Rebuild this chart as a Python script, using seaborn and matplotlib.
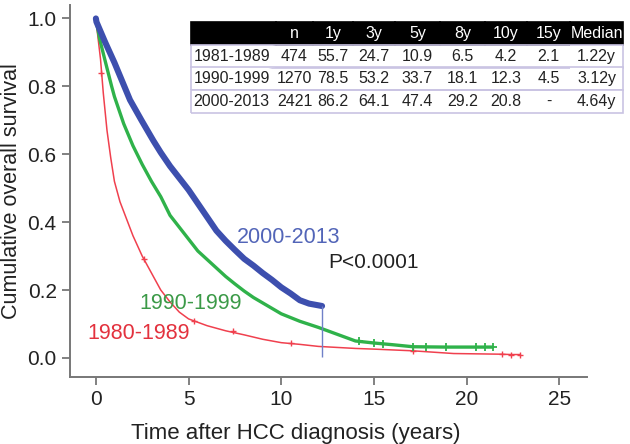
import numpy as np
import pandas as pd
import matplotlib
matplotlib.use("Agg")
import matplotlib.pyplot as plt
import seaborn as sns

# -------------------- 数据 --------------------
red_t = [0, 0.1, 0.25, 0.4, 0.6, 0.8, 1.0, 1.3, 1.65, 2, 2.5, 3, 3.5, 4, 4.5, 5, 6, 7, 8, 9,
         10, 11, 12, 13, 14, 15, 17.1, 19.3, 21.9, 22.4, 22.9]
red_s = [1, 0.95, 0.88, 0.78, 0.67, 0.59, 0.52, 0.46, 0.41, 0.36, 0.30, 0.25, 0.2, 0.165,
         0.135, 0.115, 0.095, 0.08, 0.068, 0.055, 0.045, 0.04, 0.034, 0.031, 0.028, 0.026,
         0.021, 0.013, 0.011, 0.01, 0.01]
red_cens_t = [0.3, 2.6, 5.3, 7.4, 10.5, 17.1, 21.9, 22.4, 22.9]
red_cens_s = [0.84, 0.29, 0.11, 0.078, 0.043, 0.021, 0.011, 0.01, 0.01]

green_t = [0, 0.2, 0.5, 0.85, 1.0, 1.5, 2, 2.5, 3, 3.5, 4, 4.5, 5, 5.5, 6, 6.5, 7, 7.5, 8,
           8.5, 9, 10, 11, 12, 13, 14, 15, 16, 17.1, 18.9, 20.5, 21.4]
green_s = [1, 0.94, 0.875, 0.80, 0.77, 0.69, 0.625, 0.57, 0.52, 0.475, 0.42, 0.385, 0.35,
           0.315, 0.29, 0.265, 0.24, 0.218, 0.197, 0.178, 0.162, 0.13, 0.108, 0.09, 0.07,
           0.05, 0.044, 0.039, 0.033, 0.032, 0.032, 0.032]
green_cens_t = [14.2, 15.0, 15.5, 17.1, 17.8, 18.9, 20.5, 21.0, 21.4]
green_cens_s = [0.049, 0.044, 0.042, 0.033, 0.032, 0.032, 0.032, 0.032, 0.032]

blue_t = [0, 0.03, 0.5, 1, 1.84, 2.46, 3.1, 3.5, 4, 4.5, 5, 5.5, 6, 6.5, 7, 7.5, 8, 8.5, 9,
          9.5, 10, 10.5, 11, 11.5, 12.2]
blue_s = [1, 0.99, 0.93, 0.87, 0.76, 0.70, 0.64, 0.605, 0.565, 0.53, 0.495, 0.455, 0.415,
          0.375, 0.345, 0.318, 0.292, 0.272, 0.25, 0.23, 0.208, 0.19, 0.17, 0.16, 0.153]

table_header = ["", "n", "1y", "3y", "5y", "8y", "10y", "15y", "Median"]
table_rows = [
    ["1981-1989", "474", "55.7", "24.7", "10.9", "6.5", "4.2", "2.1", "1.22y"],
    ["1990-1999", "1270", "78.5", "53.2", "33.7", "18.1", "12.3", "4.5", "3.12y"],
    ["2000-2013", "2421", "86.2", "64.1", "47.4", "29.2", "20.8", "-", "4.64y"],
]

RED, GREEN, BLUE = "#f0404e", "#2fb24a", "#3d4fae"

# -------------------- 绘图 --------------------
sns.set_style("ticks")
plt.rcParams['font.family'] = ['Liberation Sans', 'DejaVu Sans']

fig = plt.figure(figsize=(6.3, 4.44), dpi=100)
ax = fig.add_axes([0.111, 0.151, 0.821, 0.838])

sns.lineplot(x=red_t, y=red_s, ax=ax, color=RED, lw=1.1, sort=False)
sns.lineplot(x=green_t, y=green_s, ax=ax, color=GREEN, lw=2.4, sort=False)
sns.lineplot(x=blue_t, y=blue_s, ax=ax, color=BLUE, lw=4.4, sort=False)
ax.plot(red_cens_t, red_cens_s, ls="none", marker="+", ms=5, mew=1, color=RED)
ax.plot(green_cens_t, green_cens_s, ls="none", marker="+", ms=6, mew=1.3, color=GREEN)
ax.vlines(blue_t[-1], 0.003, blue_s[-1], color="#7080c8", lw=1)

ax.text(7.6, 0.356, "2000-2013", color="#5265b8", fontsize=15.5, va="center")
ax.text(2.35, 0.16, "1990-1999", color="#3c9a48", fontsize=15.5, va="center")
ax.text(-0.45, 0.073, "1980-1989", color="#e3323e", fontsize=15.5, va="center")
ax.text(14.95, 0.28, "P<0.0001", color="#222222", fontsize=15, va="center", ha="center")

ax.set_xlim(-1.4, 26.5)
ax.set_ylim(-0.056, 1.04)
ax.set_xticks([0, 5, 10, 15, 20, 25])
ax.set_yticks([0.0, 0.2, 0.4, 0.6, 0.8, 1.0])
ax.set_yticklabels([f"{v:.1f}" for v in [0.0, 0.2, 0.4, 0.6, 0.8, 1.0]])
ax.set_xlabel("Time after HCC diagnosis (years)", fontsize=16, color="#222222")
ax.xaxis.set_label_coords(0.437, -0.125)
ax.set_ylabel("Cumulative overall survival", fontsize=15.5, color="#222222", labelpad=4)
ax.tick_params(labelsize=15, colors="#777777", labelcolor="#222222", length=6, width=1.3)
for side in ["left", "bottom"]:
    ax.spines[side].set_color("#777777")
    ax.spines[side].set_linewidth(1.4)
sns.despine(ax=ax)

# 表格
ax_t = fig.add_axes([191 / 630, 1 - 113 / 444, 432 / 630, 91 / 444])
ax_t.axis("off")
col_w = np.array([85, 37, 40, 42, 45, 45, 42, 43, 53], dtype=float)
tbl = ax_t.table(cellText=table_rows, colLabels=table_header, colWidths=list(col_w / col_w.sum()),
                 cellLoc="center", bbox=[0, 0, 1, 1])
tbl.auto_set_font_size(False)
tbl.set_fontsize(11.5)
ncol = len(table_header)
for (r, c), cell in tbl.get_celld().items():
    cell.set_linewidth(1.2)
    if r == 0:
        cell.set_facecolor("black")
        cell.set_edgecolor("black")
        cell.get_text().set_color("white")
    else:
        cell.set_facecolor("white")
        cell.set_edgecolor("#c9c3e3")
        cell.get_text().set_color("#222222")
        if c == 0:
            cell.visible_edges = "BTL"
            cell.get_text().set_ha("left")
            cell.PAD = 0.03
        elif c == ncol - 1:
            cell.visible_edges = "BTR"
        else:
            cell.visible_edges = "BT"

fig.savefig("out.png", dpi=100)
